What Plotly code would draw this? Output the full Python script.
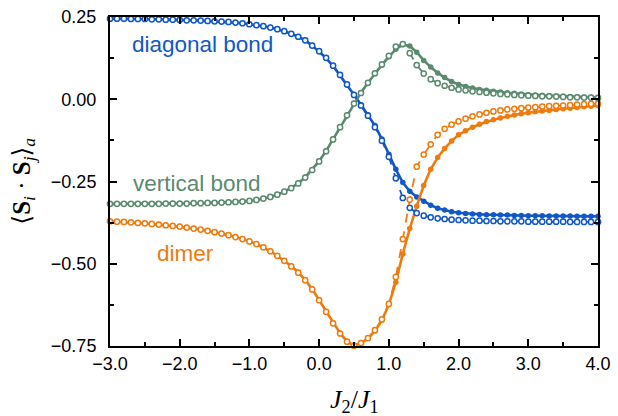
import plotly.graph_objects as go

# ---------------- data ----------------
j2_over_j1 = [-3.0, -2.9, -2.8, -2.7, -2.6, -2.5, -2.4, -2.3, -2.2, -2.1,
              -2.0, -1.9, -1.8, -1.7, -1.6, -1.5, -1.4, -1.3, -1.2, -1.1,
              -1.0, -0.9, -0.8, -0.7, -0.6, -0.5, -0.4, -0.3, -0.2, -0.1,
              0.0, 0.1, 0.2, 0.3, 0.4, 0.5, 0.6, 0.7, 0.8, 0.9,
              1.0, 1.1, 1.2, 1.3, 1.4, 1.5, 1.6, 1.7, 1.8, 1.9,
              2.0, 2.1, 2.2, 2.3, 2.4, 2.5, 2.6, 2.7, 2.8, 2.9,
              3.0, 3.1, 3.2, 3.3, 3.4, 3.5, 3.6, 3.7, 3.8, 3.9, 4.0]

diag_solid = [0.245, 0.245, 0.245, 0.244, 0.244, 0.244, 0.243, 0.243, 0.242, 0.242,
              0.241, 0.240, 0.240, 0.239, 0.238, 0.237, 0.236, 0.235, 0.233, 0.231,
              0.228, 0.225, 0.222, 0.218, 0.213, 0.207, 0.199, 0.190, 0.179, 0.163,
              0.145, 0.125, 0.101, 0.073, 0.044, 0.014, -0.017, -0.047, -0.080, -0.121,
              -0.167, -0.213, -0.253, -0.280, -0.297, -0.310, -0.322, -0.331, -0.337, -0.342,
              -0.345, -0.347, -0.349, -0.350, -0.351, -0.351, -0.352, -0.352, -0.353, -0.353,
              -0.354, -0.354, -0.354, -0.355, -0.355, -0.355, -0.355, -0.356, -0.356, -0.356, -0.356]

diag_open = [0.245, 0.245, 0.245, 0.244, 0.244, 0.244, 0.243, 0.243, 0.242, 0.242,
             0.241, 0.240, 0.240, 0.239, 0.238, 0.237, 0.236, 0.235, 0.233, 0.231,
             0.228, 0.225, 0.222, 0.218, 0.213, 0.207, 0.199, 0.190, 0.179, 0.163,
             0.146, 0.126, 0.102, 0.074, 0.045, 0.013, -0.019, -0.050, -0.085, -0.126,
             -0.175, -0.240, -0.300, -0.330, -0.346, -0.354, -0.359, -0.362, -0.364, -0.366,
             -0.367, -0.368, -0.369, -0.369, -0.370, -0.370, -0.371, -0.371, -0.371, -0.371,
             -0.372, -0.372, -0.372, -0.372, -0.372, -0.372, -0.373, -0.373, -0.373, -0.373, -0.373]

vert_solid = [-0.318, -0.318, -0.318, -0.318, -0.318, -0.318, -0.318, -0.318, -0.317, -0.317,
              -0.317, -0.317, -0.316, -0.316, -0.315, -0.315, -0.314, -0.313, -0.312, -0.311,
              -0.309, -0.306, -0.302, -0.297, -0.290, -0.281, -0.269, -0.255, -0.237, -0.214,
              -0.188, -0.157, -0.121, -0.084, -0.048, -0.012, 0.020, 0.050, 0.078, 0.104,
              0.129, 0.152, 0.166, 0.162, 0.143, 0.118, 0.098, 0.080, 0.066, 0.054,
              0.045, 0.039, 0.034, 0.030, 0.027, 0.024, 0.022, 0.020, 0.018, 0.016,
              0.014, 0.013, 0.012, 0.011, 0.010, 0.009, 0.008, 0.007, 0.006, 0.006, 0.005]

vert_open = [-0.318, -0.318, -0.318, -0.318, -0.318, -0.318, -0.318, -0.318, -0.317, -0.317,
             -0.317, -0.317, -0.316, -0.316, -0.315, -0.315, -0.314, -0.313, -0.312, -0.311,
             -0.309, -0.306, -0.302, -0.297, -0.290, -0.281, -0.270, -0.256, -0.238, -0.215,
             -0.189, -0.158, -0.122, -0.085, -0.049, -0.013, 0.019, 0.050, 0.079, 0.106,
             0.132, 0.160, 0.168, 0.140, 0.104, 0.078, 0.061, 0.049, 0.041, 0.035,
             0.030, 0.027, 0.024, 0.022, 0.020, 0.018, 0.016, 0.015, 0.013, 0.012,
             0.011, 0.010, 0.009, 0.009, 0.008, 0.007, 0.006, 0.006, 0.005, 0.005, 0.004]

dimer_solid = [-0.371, -0.372, -0.373, -0.374, -0.376, -0.377, -0.379, -0.381, -0.383, -0.385,
               -0.387, -0.390, -0.393, -0.396, -0.400, -0.404, -0.408, -0.413, -0.419, -0.425,
               -0.432, -0.440, -0.450, -0.462, -0.476, -0.491, -0.507, -0.526, -0.549, -0.577,
               -0.610, -0.645, -0.680, -0.711, -0.736, -0.749, -0.742, -0.727, -0.704, -0.672,
               -0.624, -0.556, -0.470, -0.393, -0.325, -0.262, -0.213, -0.177, -0.150, -0.127,
               -0.108, -0.096, -0.085, -0.076, -0.068, -0.062, -0.057, -0.052, -0.048, -0.044,
               -0.041, -0.038, -0.036, -0.034, -0.031, -0.029, -0.027, -0.025, -0.023, -0.021, -0.019]

dimer_open = [-0.371, -0.372, -0.373, -0.374, -0.376, -0.377, -0.379, -0.381, -0.383, -0.385,
              -0.387, -0.390, -0.393, -0.396, -0.400, -0.404, -0.408, -0.413, -0.419, -0.425,
              -0.432, -0.440, -0.450, -0.462, -0.476, -0.491, -0.508, -0.527, -0.550, -0.578,
              -0.611, -0.646, -0.681, -0.712, -0.737, -0.749, -0.741, -0.726, -0.702, -0.669,
              -0.622, -0.540, -0.425, -0.305, -0.205, -0.168, -0.137, -0.108, -0.090, -0.077,
              -0.067, -0.059, -0.052, -0.046, -0.041, -0.037, -0.034, -0.031, -0.029, -0.027,
              -0.025, -0.024, -0.022, -0.021, -0.020, -0.019, -0.018, -0.016, -0.015, -0.014, -0.013]

x_ticks = [-3.0, -2.0, -1.0, 0.0, 1.0, 2.0, 3.0, 4.0]
y_ticks = [0.25, 0.0, -0.25, -0.5, -0.75]

series_labels = ["diagonal bond", "vertical bond", "dimer"]
label_x = [-1.68, -1.745, -1.91]
label_y = [0.167, -0.255, -0.47]

BLUE = "#1158c7"
GREEN = "#5b8a6f"
ORANGE = "#ef7b0e"
colors = [BLUE, GREEN, ORANGE]

fig = go.Figure()

solid_sets = [diag_solid, vert_solid, dimer_solid]
open_sets = [diag_open, vert_open, dimer_open]

for vals, c in zip(solid_sets, colors):
    fig.add_trace(go.Scatter(
        x=j2_over_j1, y=vals, mode="lines+markers",
        line=dict(color=c, width=2.6),
        marker=dict(symbol="circle", size=5.5, color=c),
        cliponaxis=False, showlegend=False))

for vals, c in zip(open_sets, colors):
    fig.add_trace(go.Scatter(
        x=j2_over_j1, y=vals, mode="lines+markers",
        line=dict(color=c, width=1.8, dash="dash"),
        marker=dict(symbol="circle", size=5.2, color="white",
                    line=dict(color=c, width=1.5)),
        cliponaxis=False, showlegend=False))

for t, xx, yy, c in zip(series_labels, label_x, label_y, colors):
    fig.add_annotation(x=xx, y=yy, text=t, showarrow=False,
                       xanchor="center", yanchor="middle",
                       font=dict(family="Liberation Sans, Arial, sans-serif", size=22.5, color=c))

axis_common = dict(
    showline=True, linecolor="black", linewidth=2, mirror="ticks",
    ticks="inside", ticklen=7, tickwidth=2, tickcolor="black",
    showgrid=False, zeroline=False, automargin=False,
    tickfont=dict(family="Liberation Sans, Arial, sans-serif", size=18, color="black"),
)

fig.update_xaxes(range=[-3, 4], tickvals=x_ticks, tickformat=".1f",
                 ticklabelstandoff=0,
                 minor=dict(ticks="inside", dtick=0.5, tick0=0, ticklen=4,
                            tickwidth=1.5, tickcolor="black"),
                 **axis_common)
fig.update_yaxes(range=[-0.75, 0.25], tickvals=y_ticks, tickformat=".2f",
                 ticklabelstandoff=8,
                 minor=dict(ticks="inside", dtick=0.125, tick0=0, ticklen=4,
                            tickwidth=1.5, tickcolor="black"),
                 **axis_common)

fig.add_annotation(xref="paper", yref="paper", x=0.5, y=-0.168,
                   text="<i>J</i><sub>2</sub>/<i>J</i><sub>1</sub>",
                   showarrow=False, xanchor="center", yanchor="middle",
                   font=dict(family="Liberation Serif, DejaVu Serif, serif", size=26, color="black"))
fig.add_annotation(xref="paper", yref="paper", x=-0.178, y=0.5,
                   text="⟨<b>S</b><sub><i>i</i></sub> · <b>S</b><sub><i>j</i></sub>⟩<sub><i>a</i></sub>",
                   showarrow=False, textangle=-90, xanchor="center", yanchor="middle",
                   font=dict(family="Liberation Serif, DejaVu Serif, serif", size=25, color="black"))

fig.update_layout(
    template="none",
    width=618, height=416,
    margin=dict(l=110, r=20, t=17, b=70),
    paper_bgcolor="white", plot_bgcolor="white",
)

fig.write_html("out.html", config={"displayModeBar": False},
               post_script="document.body.style.margin='0';")
